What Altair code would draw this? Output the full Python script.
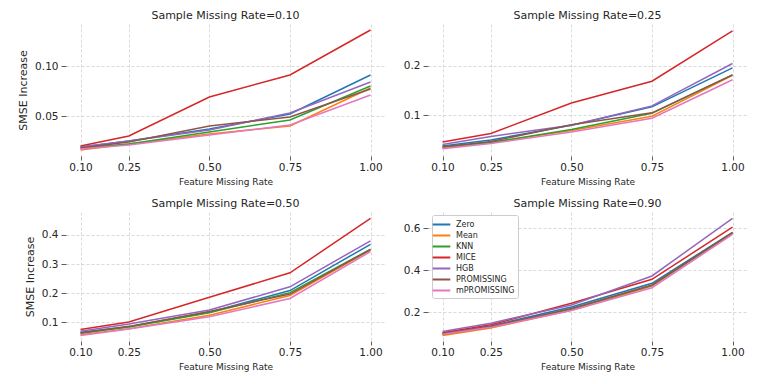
import altair as alt
import pandas as pd

methods = ["Zero", "Mean", "KNN", "MICE", "HGB", "PROMISSING", "mPROMISSING"]
colors = ["#1f77b4", "#ff7f0e", "#2ca02c", "#d62728", "#9467bd", "#8c564b", "#e377c2"]
feature_rates = [0.10, 0.25, 0.50, 0.75, 1.00]

# Sample Missing Rate = 0.10
smse_010 = {
    "Zero":        [0.019, 0.025, 0.037, 0.052, 0.091],
    "Mean":        [0.016, 0.022, 0.032, 0.040, 0.078],
    "KNN":         [0.018, 0.022, 0.034, 0.046, 0.080],
    "MICE":        [0.020, 0.030, 0.069, 0.091, 0.136],
    "HGB":         [0.019, 0.025, 0.036, 0.053, 0.084],
    "PROMISSING":  [0.018, 0.024, 0.040, 0.049, 0.077],
    "mPROMISSING": [0.017, 0.021, 0.031, 0.041, 0.071],
}
# Sample Missing Rate = 0.25
smse_025 = {
    "Zero":        [0.038, 0.050, 0.080, 0.117, 0.196],
    "Mean":        [0.034, 0.045, 0.069, 0.098, 0.181],
    "KNN":         [0.036, 0.045, 0.071, 0.104, 0.182],
    "MICE":        [0.046, 0.063, 0.125, 0.169, 0.271],
    "HGB":         [0.041, 0.057, 0.080, 0.119, 0.205],
    "PROMISSING":  [0.036, 0.047, 0.081, 0.105, 0.182],
    "mPROMISSING": [0.032, 0.043, 0.066, 0.094, 0.172],
}
# Sample Missing Rate = 0.50
smse_050 = {
    "Zero":        [0.066, 0.085, 0.135, 0.209, 0.368],
    "Mean":        [0.057, 0.078, 0.124, 0.192, 0.348],
    "KNN":         [0.062, 0.084, 0.133, 0.202, 0.351],
    "MICE":        [0.075, 0.101, 0.186, 0.270, 0.457],
    "HGB":         [0.069, 0.094, 0.142, 0.222, 0.380],
    "PROMISSING":  [0.063, 0.086, 0.137, 0.197, 0.350],
    "mPROMISSING": [0.055, 0.077, 0.119, 0.182, 0.343],
}
# Sample Missing Rate = 0.90
smse_090 = {
    "Zero":        [0.098, 0.135, 0.225, 0.338, 0.581],
    "Mean":        [0.089, 0.125, 0.210, 0.325, 0.578],
    "KNN":         [0.095, 0.130, 0.215, 0.328, 0.578],
    "MICE":        [0.102, 0.140, 0.243, 0.357, 0.606],
    "HGB":         [0.108, 0.148, 0.235, 0.373, 0.648],
    "PROMISSING":  [0.097, 0.132, 0.218, 0.330, 0.580],
    "mPROMISSING": [0.095, 0.128, 0.208, 0.317, 0.571],
}

panels = [
    ("0.10", smse_010, [0.010, 0.142], [0.05, 0.10], ".2f", True, False, 132),
    ("0.25", smse_025, [0.0175, 0.285], [0.1, 0.2], ".1f", False, False, 132),
    ("0.50", smse_050, [0.0357, 0.479], [0.1, 0.2, 0.3, 0.4], ".1f", True, False, 129),
    ("0.90", smse_090, [0.063, 0.678], [0.2, 0.4, 0.6], ".1f", False, True, 129),
]

FONT = "DejaVu Sans"


def make_panel(rate, values, ydom, yticks, yfmt, ytitle, legend, height):
    rows = []
    for m in methods:
        for fr, v in zip(feature_rates, values[m]):
            rows.append({"method": m, "fmr": fr, "smse": v})
    df = pd.DataFrame(rows)

    yaxis_kw = dict(values=yticks, format=yfmt)
    if ytitle:
        yaxis_kw["title"] = "SMSE Increase"
    else:
        yaxis_kw["title"] = ""

    if legend:
        leg = alt.Legend(
            title=None, orient="none", legendX=4, legendY=3,
            symbolType="M-1.6,0H1.6", symbolSize=121, symbolStrokeWidth=2,
            labelFontSize=8, labelFont=FONT, labelColor="#262626", labelOffset=8,
            fillColor="white", strokeColor="#cccccc", padding=3, cornerRadius=2,
            rowPadding=0,
        )
    else:
        leg = None

    return alt.Chart(df).mark_line(strokeWidth=1.5).encode(
        x=alt.X("fmr:Q",
                scale=alt.Scale(domain=[0.055, 1.045], nice=False, zero=False),
                axis=alt.Axis(values=feature_rates, format=".2f",
                              title="Feature Missing Rate", labelFlush=False)),
        y=alt.Y("smse:Q",
                scale=alt.Scale(domain=ydom, nice=False, zero=False),
                axis=alt.Axis(**yaxis_kw)),
        color=alt.Color("method:N", scale=alt.Scale(domain=methods, range=colors),
                        legend=leg, sort=methods),
    ).properties(width=319, height=height,
                 title=alt.TitleParams(f"Sample Missing Rate={rate}"))


charts = [make_panel(*p) for p in panels]

chart = alt.concat(*charts, columns=2, spacing={"row": 11, "column": 18}).resolve_scale(
    color="independent").resolve_legend(color="independent").properties(
    padding={"left": 9, "top": 2, "right": 0, "bottom": 0},
    background="white",
).configure_view(stroke=None).configure_axis(
    labelFont=FONT, titleFont=FONT, labelFontSize=10.5, labelColor="#262626",
    titleColor="#262626", titleFontWeight="normal", domain=False,
    gridColor="#d0d0d0", gridDash=[3, 2], gridWidth=0.8,
    tickColor="#333333", tickWidth=0.8,
).configure_axisX(
    tickSize=4, labelPadding=2, titleFontSize=9, titlePadding=5,
).configure_axisY(
    tickSize=5, labelPadding=3, titleFontSize=11, titlePadding=6,
).configure_title(
    font=FONT, fontSize=11, fontWeight="normal", color="#262626", offset=3,
)

chart.save("out.html", embed_options={"renderer": "svg", "actions": False})
